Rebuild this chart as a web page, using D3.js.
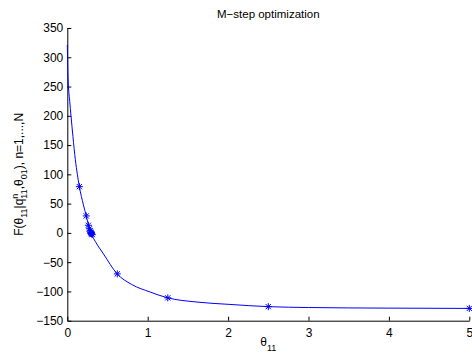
<!DOCTYPE html>
<html><head><meta charset="utf-8">
<script src="https://cdn.jsdelivr.net/npm/d3@7"></script>
<style>body{margin:0;background:#fff}svg{display:block}text{font-family:"Liberation Sans",Arial,sans-serif}</style>
</head><body><svg id="c" width="472" height="354"></svg>
<script>
// curve of F(theta11)
const curveTheta = [0.0005, 0.009, 0.03, 0.046, 0.07, 0.1, 0.125, 0.15, 0.2, 0.236, 0.26, 0.3, 0.35, 0.45, 0.62, 0.8, 1.03, 1.25, 1.6, 2.0, 2.5, 3.0, 4.0, 5.0];
const curveF     = [321, 265, 225, 200, 165, 125, 100, 79, 48, 29, 15, -2, -15, -36, -70, -88, -101, -111, -118, -122, -126, -127.5, -128.5, -129];
// optimization iterates (asterisk markers)
const markTheta = [5, 2.5, 1.25, 0.622, 0.15, 0.236, 0.262, 0.275, 0.283, 0.29, 0.295, 0.3, 0.305, 0.31];
const markF     = [-129, -126, -111, -70, 79, 29, 13, 7, 3, 1, 0, -1, -2, -3];
const xTicks = [0, 1, 2, 3, 4, 5];
const yTicks = [-150, -100, -50, 0, 50, 100, 150, 200, 250, 300, 350];

const svg = d3.select("#c");
const L = 67.3, R = 469.3, T = 28, B = 320.7;
const x = d3.scaleLinear().domain([0, 5]).range([L, R]);
const y = d3.scaleLinear().domain([-150, 350]).range([B, T]);
const blue = "#0000ff";

// axes
const xa = svg.append("g").attr("transform", `translate(0,${B})`)
  .call(d3.axisBottom(x).tickValues(xTicks).tickSizeInner(-4).tickSizeOuter(0).tickPadding(8).tickFormat(d3.format("d")));
const ya = svg.append("g").attr("transform", `translate(${L},0)`)
  .call(d3.axisLeft(y).tickValues(yTicks).tickSizeInner(-4).tickSizeOuter(0).tickPadding(4).tickFormat(d => d < 0 ? "\u2212" + Math.abs(d) : d));
[xa, ya].forEach(g => {
  g.select(".domain").attr("stroke", "#000").attr("stroke-width", 1);
  g.selectAll(".tick line").attr("stroke", "#000");
  g.selectAll(".tick text").attr("fill", "#000").style("font-size", "12px").style("font-family", '"Liberation Sans",Arial,sans-serif');
});

// curve
const line = d3.line().x((d, i) => x(curveTheta[i])).y((d, i) => y(curveF[i])).curve(d3.curveMonotoneX);
svg.append("path").datum(curveF).attr("d", line).attr("fill", "none").attr("stroke", blue).attr("stroke-width", 1);

// asterisk markers
const s = 3.5, sd = 2.6;
const star = `M${-s},0L${s},0M0,${-s}L0,${s}M${-sd},${-sd}L${sd},${sd}M${-sd},${sd}L${sd},${-sd}`;
svg.append("g").selectAll("path").data(markTheta).join("path")
  .attr("transform", (d, i) => `translate(${x(d)},${y(markF[i])})`)
  .attr("d", star).attr("stroke", blue).attr("stroke-width", 1).attr("fill", "none");

// title
svg.append("text").attr("x", (L + R) / 2).attr("y", 18).attr("text-anchor", "middle")
  .style("font-size", "11.5px").text("M\u2212step optimization");

// x label
const xl = svg.append("text").attr("x", (L + R) / 2).attr("y", 346).attr("text-anchor", "middle").style("font-size", "12px");
xl.append("tspan").text("\u03b8");
xl.append("tspan").attr("dy", 5).style("font-size", "9px").text("11");

// y label
const yl = svg.append("text").attr("transform", `translate(23,${(T + B) / 2}) rotate(-90)`).attr("text-anchor", "middle").style("font-size", "12px");
yl.append("tspan").text("F(\u03b8");
yl.append("tspan").attr("dy", 4).style("font-size", "9px").text("11");
yl.append("tspan").attr("dy", -4).text("|q");
yl.append("tspan").attr("dy", -5).style("font-size", "9px").text("n");
yl.append("tspan").attr("dy", 9).attr("dx", -5).style("font-size", "9px").text("11");
yl.append("tspan").attr("dy", -4).text(",\u03b8");
yl.append("tspan").attr("dy", 4).style("font-size", "9px").text("01");
yl.append("tspan").attr("dy", -4).text("), n=1,...,N");
</script></body></html>
